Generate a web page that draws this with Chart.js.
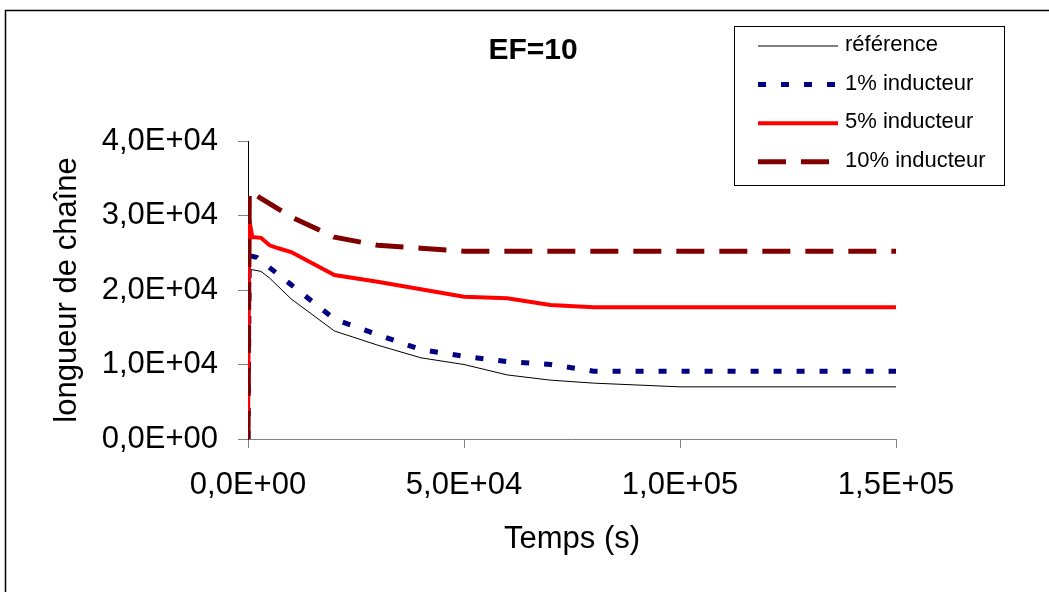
<!DOCTYPE html>
<html>
<head>
<meta charset="utf-8">
<title>EF=10</title>
<script src="https://cdn.jsdelivr.net/npm/chart.js@4.4.1/dist/chart.umd.min.js"></script>
<style>
  html, body { margin: 0; padding: 0; background: #fff; }
  #myChart { display: block; }
</style>
</head>
<body>
<canvas id="myChart" width="1049" height="592"></canvas>
<script>
// time (s) / chain length
const refTimes = [0, 300, 3000, 5000, 10000, 20000, 30000, 40000, 50000, 60000, 70000, 80000, 100000, 150000]
const refValues = [0, 22800, 22500, 21600, 18800, 14500, 12600, 10900, 10000, 8600, 7900, 7500, 7000, 7000]

const ind1Times = [0, 300, 2000, 5000, 10000, 20000, 30000, 40000, 50000, 60000, 70000, 80000, 100000, 150000]
const ind1Values = [0, 24600, 24400, 23000, 20700, 16100, 14000, 12000, 11100, 10400, 10000, 9100, 9100, 9100]

const ind5Times = [0, 300, 1000, 3000, 5000, 7000, 10000, 20000, 30000, 40000, 50000, 60000, 70000, 80000, 100000, 150000]
const ind5Values = [0, 29400, 27100, 27000, 26000, 25600, 25100, 22000, 21100, 20100, 19100, 18900, 18000, 17700, 17700, 17700]

const ind10Times = [0, 300, 3000, 10000, 20000, 30000, 40000, 50000, 100000, 150000]
const ind10Values = [0, 33300, 32300, 29800, 27100, 26000, 25600, 25200, 25200, 25200]

const seriesLabels = ['référence', '1% inducteur', '5% inducteur', '10% inducteur']
const chartTitle = 'EF=10'
const xTitle = 'Temps (s)'
const yTitle = 'longueur de chaîne'

function toPoints(times, values) {
  return times.map((t, i) => ({ x: t, y: values[i] }))
}

// Excel-like "4,0E+04"
function sciLabel(v) {
  const parts = Number(v).toExponential(1).split('e')
  const mant = parts[0].replace('.', ',')
  const exp = parseInt(parts[1], 10)
  const sign = exp < 0 ? '-' : '+'
  const digits = String(Math.abs(exp)).padStart(2, '0')
  return mant + 'E' + sign + digits
}

// frame, title and boxed legend like the original sheet
const decorations = {
  id: 'decorations',
  beforeDraw(chart) {
    const ctx = chart.ctx
    ctx.save()
    ctx.fillStyle = '#fff'
    ctx.fillRect(0, 0, chart.width, chart.height)
    ctx.strokeStyle = '#000'
    ctx.lineWidth = 1.5
    ctx.beginPath()
    ctx.moveTo(5.5, chart.height)
    ctx.lineTo(5.5, 10.5)
    ctx.lineTo(chart.width, 10.5)
    ctx.stroke()
    ctx.restore()
  },
  afterDraw(chart) {
    const ctx = chart.ctx
    ctx.save()
    ctx.fillStyle = '#000'
    ctx.font = "bold 30px 'Liberation Sans', Arial, sans-serif"
    ctx.textAlign = 'center'
    ctx.textBaseline = 'middle'
    ctx.fillText(chartTitle, 533, 51)

    // legend box
    ctx.fillStyle = '#fff'
    ctx.fillRect(734.5, 26.5, 270, 159)
    ctx.strokeStyle = '#000'
    ctx.lineWidth = 1
    ctx.strokeRect(734.5, 26.5, 270, 159)

    ctx.font = "22px 'Liberation Sans', Arial, sans-serif"
    ctx.textAlign = 'left'
    chart.data.datasets.forEach((ds, i) => {
      const y = 46 + i * 38.6
      ctx.strokeStyle = ds.borderColor
      ctx.lineWidth = ds.borderWidth
      ctx.setLineDash(ds.borderDash || [])
      ctx.lineCap = 'butt'
      ctx.beginPath()
      ctx.moveTo(758, y)
      ctx.lineTo(838, y)
      ctx.stroke()
      ctx.setLineDash([])
      ctx.fillStyle = '#000'
      ctx.fillText(ds.label, 845, y - 1)
    })
    ctx.restore()
  }
}

Chart.defaults.font.family = "'Liberation Sans', Arial, sans-serif"
Chart.defaults.color = '#000'

const config = {
  type: 'line',
  data: {
    datasets: [
      {
        label: seriesLabels[0],
        data: toPoints(refTimes, refValues),
        borderColor: '#000000',
        borderWidth: 1,
        order: 4
      },
      {
        label: seriesLabels[1],
        data: toPoints(ind1Times, ind1Values),
        borderColor: '#000080',
        borderWidth: 5,
        borderDash: [8, 15],
        order: 3
      },
      {
        label: seriesLabels[2],
        data: toPoints(ind5Times, ind5Values),
        borderColor: '#ff0000',
        borderWidth: 4,
        order: 2
      },
      {
        label: seriesLabels[3],
        data: toPoints(ind10Times, ind10Values),
        borderColor: '#800000',
        borderWidth: 5,
        borderDash: [28, 15],
        order: 1
      }
    ]
  },
  options: {
    responsive: false,
    animation: false,
    events: [],
    elements: {
      point: { radius: 0 },
      line: { tension: 0 }
    },
    layout: {
      padding: { top: 141, right: 153, left: 0, bottom: 0 }
    },
    plugins: {
      legend: { display: false },
      title: { display: false },
      tooltip: { enabled: false }
    },
    scales: {
      x: {
        type: 'linear',
        min: 0,
        max: 150000,
        afterFit: (scale) => { scale.height = 153 },
        ticks: {
          stepSize: 50000,
          padding: 19,
          font: { size: 31 },
          callback: (v) => sciLabel(v)
        },
        grid: {
          drawOnChartArea: false,
          tickLength: 9,
          color: '#808080'
        },
        border: { color: '#808080', width: 1 },
        title: {
          display: true,
          text: xTitle,
          font: { size: 31 },
          padding: { top: 0, bottom: 34 }
        }
      },
      y: {
        min: 0,
        max: 40000,
        afterFit: (scale) => { scale.width = 248 },
        ticks: {
          stepSize: 10000,
          padding: 20,
          font: { size: 31 },
          callback: (v) => sciLabel(v)
        },
        grid: {
          drawOnChartArea: false,
          tickLength: 10,
          color: '#808080'
        },
        border: { color: '#000', width: 1 },
        title: {
          display: true,
          text: yTitle,
          font: { size: 31 },
          padding: { top: 49, bottom: 0 }
        }
      }
    }
  },
  plugins: [decorations]
}

const ctx = document.getElementById('myChart')
const myChart = new Chart(ctx, config)
</script>
</body>
</html>
